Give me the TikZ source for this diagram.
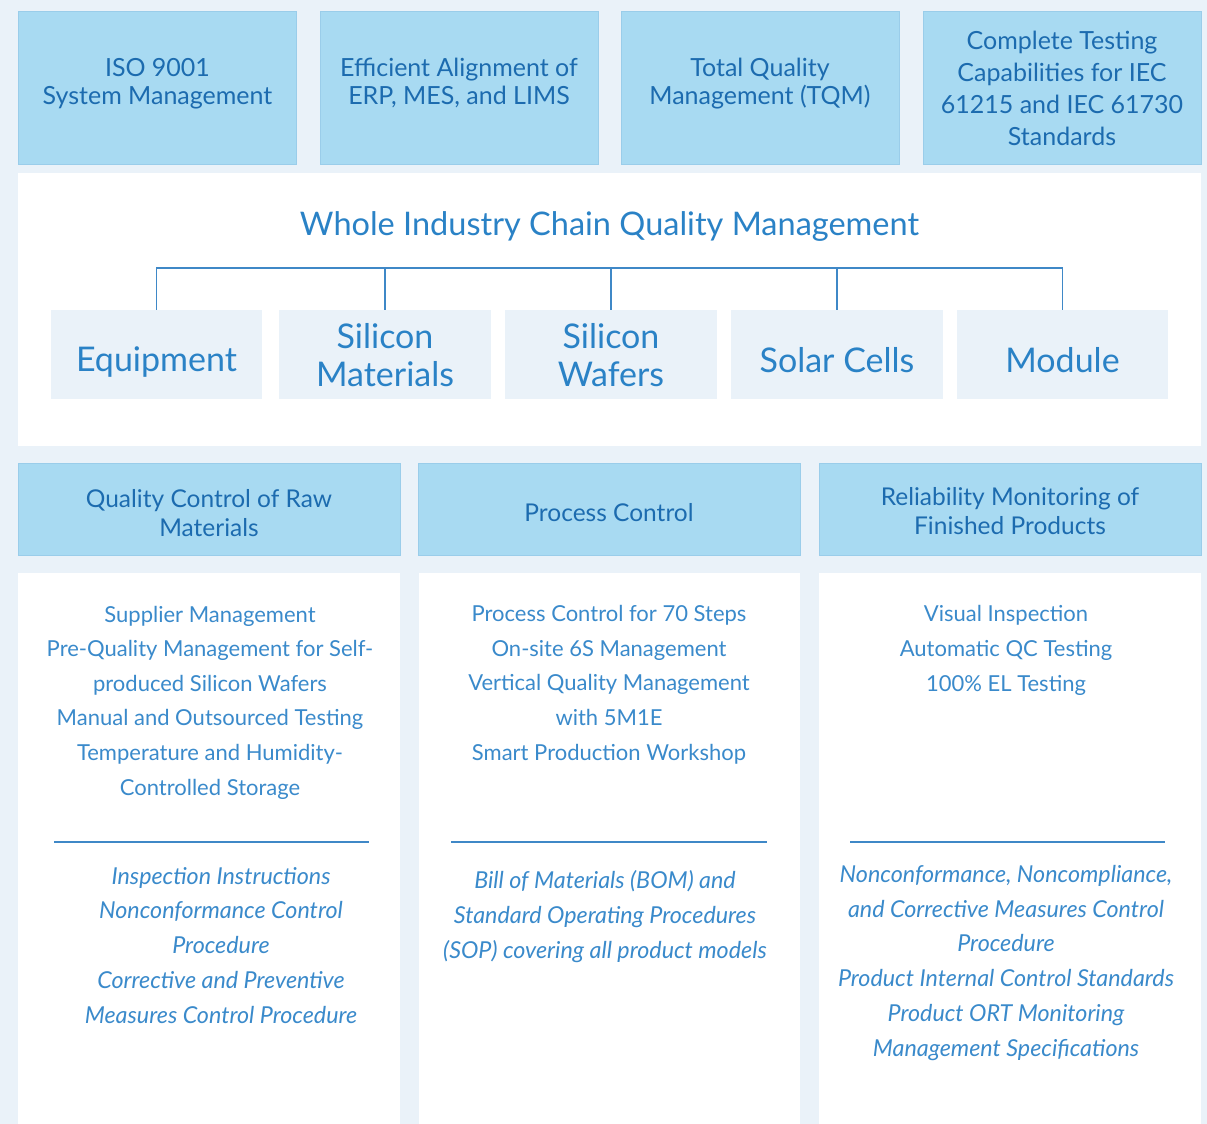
\documentclass[tikz,border=0pt]{standalone}
\usepackage{fontspec}
\setmainfont{Lato}
\usepackage{tikz}
\usetikzlibrary{positioning}
\definecolor{pagebg}{HTML}{EAF2F9}
\definecolor{skyfill}{HTML}{A8DAF2}
\definecolor{skyedge}{HTML}{9ACDEA}
\definecolor{deepblue}{HTML}{1C6BAF}
\definecolor{midblue}{HTML}{2A82C6}
\definecolor{softblue}{HTML}{3A8ACB}
\definecolor{ruleblue}{HTML}{3F88C7}
\tikzset{
	topbox/.style={
		rectangle,
		fill=skyfill,
		draw=skyedge,
		line width=1pt,
		text=deepblue,
		align=center,
		inner sep=0pt,
		minimum width=278pt,
		minimum height=152pt,
		font=\fontsize{25}{28}\selectfont
	},
	headbox/.style={
		topbox,
		minimum width=382pt,
		minimum height=92pt,
		text depth=0pt,
		font=\fontsize{24.5}{29}\selectfont
	},
	stagebox/.style={
		rectangle,
		fill=pagebg,
		text=midblue,
		align=center,
		inner sep=0pt,
		text depth=0pt,
		minimum width=211pt,
		minimum height=89pt,
		font=\fontsize{34}{38}\selectfont
	},
	panel/.style={
		rectangle,
		fill=white,
		inner sep=0pt
	},
	bodytext/.style={
		text=softblue,
		align=center,
		inner sep=0pt,
		anchor=base,
		font=\fontsize{22}{34.6}\selectfont
	},
	notetext/.style={
		bodytext,
		font=\fontsize{23.3}{34.7}\selectfont\itshape
	},
	treeline/.style={
		draw=ruleblue,
		line width=1.2pt
	},
}
\begin{document}
\begin{tikzpicture}[x=1pt,y=-1pt]
\fill[pagebg] (0,0) rectangle (1207,1124);
\useasboundingbox (0,0) rectangle (1207,1124);

% top row
\node[topbox, text depth=13pt] (iso) at (157.5,88) {ISO 9001\\System Management};
\node[topbox, text depth=13pt] (erp) at (459,88) {Efficient Alignment of\\ERP, MES, and LIMS};
\node[topbox, text depth=13pt] (tqm) at (760,88) {Total Quality\\Management (TQM)};
\node[topbox, font=\fontsize{25}{32}\selectfont] (iec) at (1062,88) {Complete Testing\\Capabilities for IEC\\61215 and IEC 61730\\Standards};

% industry chain
\node[panel, minimum width=1183pt, minimum height=273pt] (chain) at (609.5,309.5) {};
\node[text=midblue, font=\fontsize{32.5}{38}\selectfont] (chaintitle) at (609.5,226) {Whole Industry Chain Quality Management};
\coordinate (bus) at (609.5,268);

\node[stagebox, text height=33pt] (equip) at (156.5,354.5) {Equipment};
\node[stagebox, minimum width=212pt] (simat) at (385,354.5) {Silicon\\Materials};
\node[stagebox, minimum width=212pt] (wafer) at (611,354.5) {Silicon\\Wafers};
\node[stagebox, minimum width=212pt, text height=36pt] (cells) at (837,354.5) {Solar Cells};
\node[stagebox, text height=36pt] (module) at (1062.5,354.5) {Module};

\draw[treeline] (equip.north) |- (bus) -| (module.north);
\draw[treeline] (simat.north) -- (simat.north |- bus);
\draw[treeline] (wafer.north) -- (wafer.north |- bus);
\draw[treeline] (cells.north) -- (cells.north |- bus);

% three columns
\node[headbox, text height=55pt] (rawhead) at (209,509) {Quality Control of Raw\\Materials};
\node[headbox, text height=24pt] (prochead) at (609,509) {Process Control};
\node[headbox, text height=50pt] (relhead) at (1010,509) {Reliability Monitoring of\\Finished Products};

\node[panel, minimum width=382pt, minimum height=551pt] (rawpanel) at (209,848.5) {};
\node[panel, minimum width=381pt, minimum height=551pt] (procpanel) at (609.5,848.5) {};
\node[panel, minimum width=382pt, minimum height=551pt] (relpanel) at (1010,848.5) {};

% base anchor sits on the last line
\node[bodytext] (rawbody) at (210,795) {Supplier Management\\Pre-Quality Management for Self-\\produced Silicon Wafers\\Manual and Outsourced Testing\\Temperature and Humidity-\\Controlled Storage};
\node[bodytext] (procbody) at (609,760) {Process Control for 70 Steps\\On-site 6S Management\\Vertical Quality Management\\with 5M1E\\Smart Production Workshop};
\node[bodytext] (relbody) at (1006,691) {Visual Inspection\\Automatic QC Testing\\100\% EL Testing};

\draw[treeline] (54,842) -- (369,842);
\draw[treeline] (451,842) -- (767,842);
\draw[treeline] (850,842) -- (1165,842);

\node[notetext] (rawnote) at (221,1023) {Inspection Instructions\\Nonconformance Control\\Procedure\\Corrective and Preventive\\Measures Control Procedure};
\node[notetext] (procnote) at (605,958) {Bill of Materials (BOM) and\\Standard Operating Procedures\\(SOP) covering all product models};
\node[notetext] (relnote) at (1006,1056) {Nonconformance, Noncompliance,\\and Corrective Measures Control\\Procedure\\Product Internal Control Standards\\Product ORT Monitoring\\Management Specifications};

\end{tikzpicture}
\end{document}
